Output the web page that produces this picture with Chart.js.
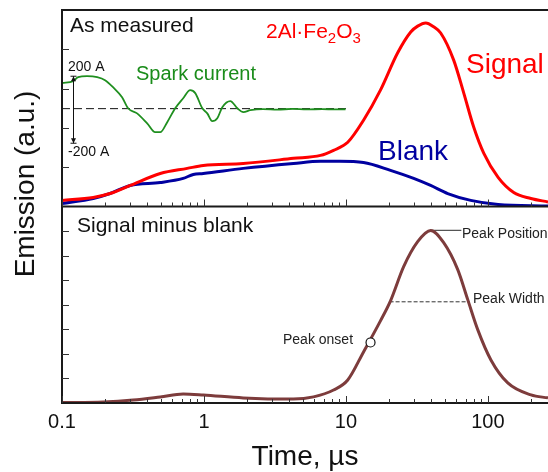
<!DOCTYPE html>
<html>
<head>
<meta charset="utf-8">
<script src="https://cdn.jsdelivr.net/npm/chart.js@4.4.0/dist/chart.umd.min.js"></script>
<style>
  html, body { margin: 0; padding: 0; background: #fff; }
  #wrap { width: 548px; height: 472px; position: relative; }
</style>
</head>
<body>
<div id="wrap"><canvas id="emission"></canvas></div>
<script>
// time in microseconds, emission in arbitrary units (each panel 0..100)
const signalTime = [0.1, 0.166, 0.218, 0.302, 0.492, 0.762, 0.989, 1.89, 4.27, 6.62, 8.18, 10.3, 13.3, 17.5, 23.1, 28.6, 32.0, 36.5, 41.4, 46.5, 57.4, 67.6, 79.5, 93.6, 118, 152, 201, 265];
const signalValues = [3.1, 4.6, 6.6, 10.7, 16.8, 19.4, 20.9, 21.9, 24.5, 26.0, 28.6, 32.7, 43.9, 59.2, 78.1, 88.8, 91.8, 93.4, 91.5, 88.3, 74.5, 57.7, 40.3, 27.0, 14.8, 7.1, 4.1, 2.3];

const blankTime = [0.1, 0.166, 0.218, 0.302, 0.492, 0.714, 0.841, 0.989, 1.89, 4.27, 6.62, 9.0, 13.3, 20.6, 30.0, 39.5, 52.1, 75.7, 118, 265];
const blankValues = [1.5, 4.1, 6.6, 10.7, 12.2, 14.3, 16.3, 16.8, 19.4, 21.9, 23.0, 23.0, 22.4, 18.4, 14.3, 10.7, 6.6, 3.1, 1.0, 0.2];

const sparkTime = [0.1, 0.12, 0.13, 0.15, 0.177, 0.201, 0.229, 0.265, 0.292, 0.338, 0.398, 0.453, 0.492, 0.551, 0.627, 0.714, 0.8, 0.868, 0.973, 1.055, 1.144, 1.241, 1.346, 1.533, 1.718, 1.894, 2.12, 2.6, 3.3, 4.2, 5.3, 6.8, 8.3, 9.93];
const sparkValues = [62.8, 63.8, 65.8, 66.3, 65.8, 64.3, 60.7, 55.6, 50.0, 47.4, 42.3, 37.8, 37.8, 42.9, 50.0, 55.1, 59.2, 57.7, 50.0, 47.4, 43.4, 44.9, 50.5, 53.6, 50.0, 48.0, 49.0, 49.6, 49.3, 49.7, 49.4, 49.6, 49.4, 49.5];

const diffTime = [0.1, 0.195, 0.317, 0.492, 0.714, 0.989, 1.89, 4.27, 5.91, 8.18, 10.3, 13.3, 17.5, 20.6, 25.5, 32.0, 39.5, 48.8, 61.3, 72.1, 84.9, 105, 138, 201, 265];
const diffValues = [0.2, 0.5, 1.5, 3.1, 4.6, 4.1, 2.6, 2.0, 3.1, 6.6, 11.7, 26.0, 41.8, 52.0, 69.4, 82.1, 87.8, 81.6, 67.9, 52.6, 37.2, 21.9, 10.2, 4.1, 2.6];

// markers on the lower panel
const onsetTime = 14.9, onsetValue = 30.8;
const peakTime = 39.5, peakValue = 87.8, peakLabelTime = 65;
const widthStart = 20.3, widthEnd = 74.5, widthValue = 51.5;

// spark current reference line and +-200 A bar
const sparkZeroRange = [0.1, 10], sparkZero = 49.8;
const sparkBarTime = 0.12, sparkBarRange = [32.2, 66.3];

const xDecades = [0.1, 1, 10, 100];
const topTicks = [20, 40, 60, 80];
const bottomTicks = [12.5, 25, 37.5, 50, 62.5, 75, 87.5];

const FONT = "'Liberation Sans', Arial, Helvetica, sans-serif";
Chart.defaults.font.family = FONT;

function pts(xs, ys) {
  return xs.map((x, i) => ({ x: x, y: ys[i] }));
}

function isDecade(v) {
  return xDecades.some(d => Math.abs(v - d) < d * 1e-6);
}

const framePlugin = {
  id: 'frame',
  afterDatasetsDraw(chart) {
    const { ctx, chartArea: a, scales } = chart;
    const x = scales.x, yT = scales.yTop, yB = scales.yBot;
    ctx.save();

    // box lines
    ctx.strokeStyle = '#1a1a1a';
    ctx.lineWidth = 2;
    ctx.beginPath();
    ctx.moveTo(a.right, a.top);
    ctx.lineTo(a.left, a.top);
    ctx.lineTo(a.left, a.bottom);
    ctx.lineTo(a.right, a.bottom);
    ctx.moveTo(a.left, yT.bottom);
    ctx.lineTo(a.right, yT.bottom);
    ctx.stroke();

    // inward ticks
    ctx.lineWidth = 1;
    ctx.strokeStyle = '#333';
    ctx.beginPath();
    x.ticks.forEach(t => {
      const e = Math.floor(Math.log10(t.value) + 1e-9);
      const sig = t.value / Math.pow(10, e);
      if (Math.abs(sig - Math.round(sig)) > 1e-6) return;
      const len = isDecade(t.value) ? 7 : 4;
      const px = Math.round(x.getPixelForValue(t.value)) + 0.5;
      [yT.bottom, yB.bottom].forEach(b => {
        ctx.moveTo(px, b);
        ctx.lineTo(px, b - len);
      });
    });
    topTicks.forEach(v => {
      const py = Math.round(yT.getPixelForValue(v)) + 0.5;
      ctx.moveTo(a.left, py);
      ctx.lineTo(a.left + 7, py);
    });
    bottomTicks.forEach(v => {
      const py = Math.round(yB.getPixelForValue(v)) + 0.5;
      ctx.moveTo(a.left, py);
      ctx.lineTo(a.left + 7, py);
    });
    ctx.stroke();

    // +-200 A bar
    const bx = Math.round(x.getPixelForValue(sparkBarTime)) + 0.5;
    const b1 = yT.getPixelForValue(sparkBarRange[1]);
    const b0 = yT.getPixelForValue(sparkBarRange[0]);
    ctx.strokeStyle = '#111';
    ctx.lineWidth = 1;
    ctx.beginPath();
    ctx.moveTo(bx, b1);
    ctx.lineTo(bx, b0);
    ctx.moveTo(bx - 3, b1);
    ctx.lineTo(bx + 3, b1);
    ctx.moveTo(bx - 3, b0);
    ctx.lineTo(bx + 3, b0);
    ctx.stroke();
    ctx.fillStyle = '#111';
    ctx.beginPath();
    ctx.moveTo(bx, b1); ctx.lineTo(bx - 2.5, b1 + 5); ctx.lineTo(bx + 2.5, b1 + 5); ctx.closePath();
    ctx.moveTo(bx, b0); ctx.lineTo(bx - 2.5, b0 - 5); ctx.lineTo(bx + 2.5, b0 - 5); ctx.closePath();
    ctx.fill();

    // labels
    const text = (s, px, py, size, color) => {
      ctx.font = size + 'px ' + FONT;
      ctx.fillStyle = color;
      ctx.textAlign = 'left';
      ctx.textBaseline = 'alphabetic';
      ctx.fillText(s, px, py);
      return ctx.measureText(s).width;
    };
    text('As measured', 70, 32, 21, '#111');
    text('Spark current', 136, 80, 20, '#1a8c1a');
    text('200 A', 68, 71, 14, '#111');
    text('-200 A', 68, 156, 14, '#111');
    text('Signal', 466, 73, 28, '#ff0000');
    text('Blank', 378, 160, 28, '#0000a0');
    text('Signal minus blank', 77, 232, 21, '#111');
    text('Peak Position', 462, 238, 14, '#222');
    text('Peak Width', 473, 303, 14, '#222');
    text('Peak onset', 283, 344, 14, '#222');

    // 2Al·Fe2O3 with subscripts
    let cx = 266;
    cx += text('2Al\u00b7Fe', cx, 38, 21, '#ff0000');
    cx += text('2', cx, 43, 15, '#ff0000');
    cx += text('O', cx, 38, 21, '#ff0000');
    text('3', cx, 43, 15, '#ff0000');

    // y title
    ctx.translate(34, 184);
    ctx.rotate(-Math.PI / 2);
    ctx.font = '28px ' + FONT;
    ctx.fillStyle = '#111';
    ctx.textAlign = 'center';
    ctx.fillText('Emission (a.u.)', 0, 0);
    ctx.restore();
  }
};

const hiddenY = {
  type: 'linear',
  position: 'left',
  stack: 'panels',
  stackWeight: 1,
  min: 0,
  max: 100,
  grid: { display: false, drawTicks: false },
  border: { display: false },
  ticks: { display: false }
};

new Chart(document.getElementById('emission'), {
  type: 'line',
  data: {
    datasets: [
      {
        label: 'Peak onset',
        data: [{ x: onsetTime, y: onsetValue }],
        yAxisID: 'yBot',
        showLine: false,
        pointRadius: 4.5,
        pointBackgroundColor: '#fff',
        pointBorderColor: '#111',
        pointBorderWidth: 1.2,
        order: -1
      },
      {
        label: 'Signal minus blank',
        data: pts(diffTime, diffValues),
        yAxisID: 'yBot',
        borderColor: '#7d3c3c',
        borderWidth: 3
      },
      {
        label: 'Peak position',
        data: [{ x: peakTime, y: peakValue }, { x: peakLabelTime, y: peakValue }],
        yAxisID: 'yBot',
        borderColor: '#555',
        borderWidth: 1.3
      },
      {
        label: 'Peak width',
        data: [{ x: widthStart, y: widthValue }, { x: widthEnd, y: widthValue }],
        yAxisID: 'yBot',
        borderColor: '#333',
        borderWidth: 1,
        borderDash: [4, 2]
      },
      {
        label: 'Signal',
        data: pts(signalTime, signalValues),
        yAxisID: 'yTop',
        borderColor: '#ff0000',
        borderWidth: 3
      },
      {
        label: 'Blank',
        data: pts(blankTime, blankValues),
        yAxisID: 'yTop',
        borderColor: '#0000a0',
        borderWidth: 3
      },
      {
        label: 'Spark current',
        data: pts(sparkTime, sparkValues),
        yAxisID: 'yTop',
        borderColor: '#1f8f1f',
        borderWidth: 1.8
      },
      {
        label: 'zero',
        data: [{ x: sparkZeroRange[0], y: sparkZero }, { x: sparkZeroRange[1], y: sparkZero }],
        yAxisID: 'yTop',
        borderColor: '#111',
        borderWidth: 1,
        borderDash: [8, 4]
      }
    ]
  },
  options: {
    responsive: true,
    maintainAspectRatio: false,
    animation: false,
    layout: { autoPadding: false, padding: { left: 62, right: 0, top: 10, bottom: 1 } },
    plugins: { legend: { display: false }, tooltip: { enabled: false } },
    elements: {
      point: { radius: 0 },
      line: { cubicInterpolationMode: 'monotone' }
    },
    scales: {
      x: {
        type: 'logarithmic',
        min: 0.1,
        max: 265,
        grid: { display: false, drawTicks: false },
        border: { display: false },
        afterFit: s => { s.paddingRight = 0; },
        ticks: {
          autoSkip: false,
          maxRotation: 0,
          padding: 7,
          color: '#111',
          font: { size: 20, lineHeight: 1.2 },
          callback: v => isDecade(v) ? String(v) : ''
        },
        title: {
          display: true,
          text: 'Time, µs',
          color: '#111',
          font: { size: 28, lineHeight: 1 },
          padding: { top: 2, bottom: 0 }
        }
      },
      yBot: hiddenY,
      yTop: Object.assign({}, hiddenY)
    }
  },
  plugins: [framePlugin]
});
</script>
</body>
</html>
